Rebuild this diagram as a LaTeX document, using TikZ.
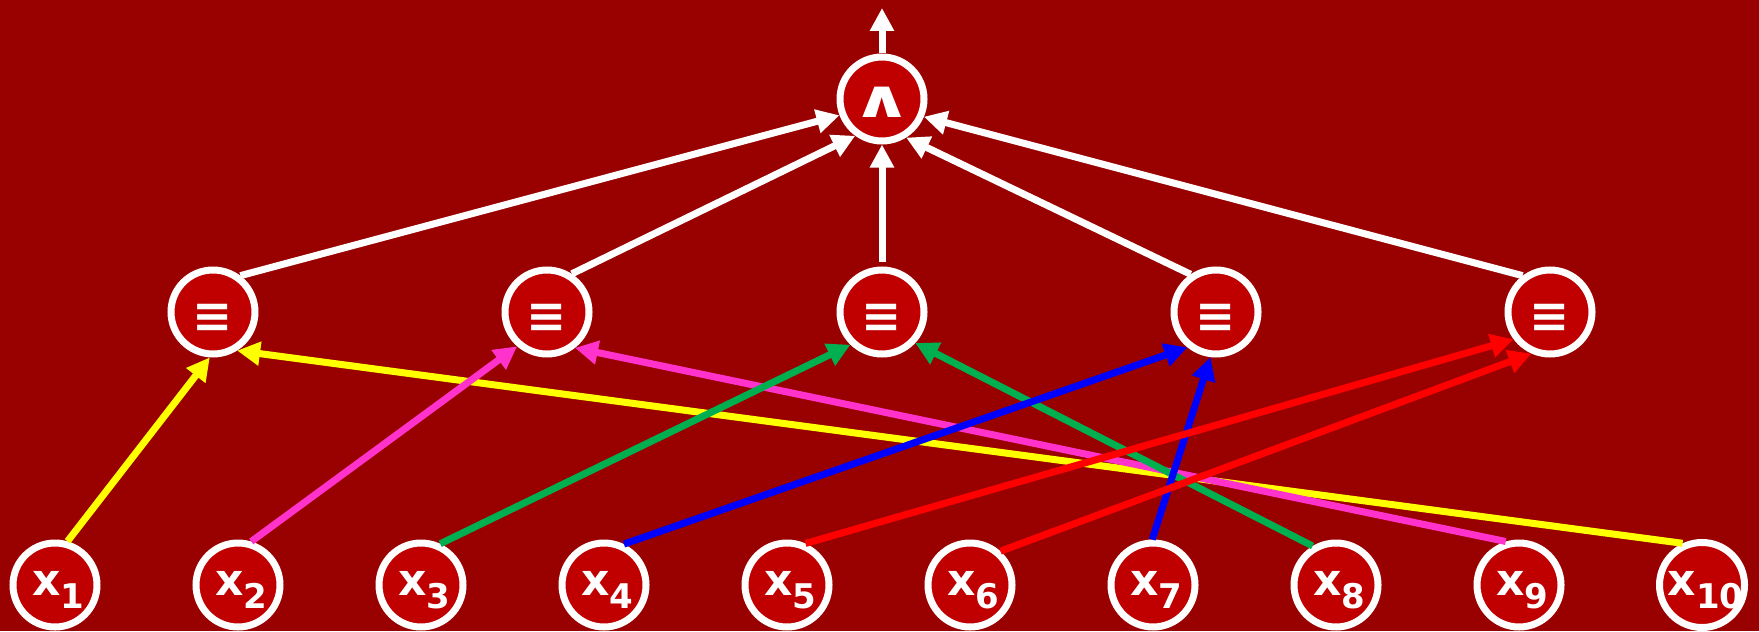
\documentclass[tikz,border=0pt]{standalone}
\usepackage{fontspec}
\setmainfont{DejaVu Sans}
\usetikzlibrary{arrows.meta}
\definecolor{bgred}{HTML}{990000}
\definecolor{nodered}{HTML}{C00000}
\definecolor{ylw}{HTML}{FFFF00}
\definecolor{pnk}{HTML}{FF33CC}
\definecolor{grn}{HTML}{00B050}
\definecolor{blu}{HTML}{0000FF}
\definecolor{rd}{HTML}{FF0000}
\newcommand\xlab[1]{\hspace*{3.5pt}{\fontsize{22pt}{22pt}\selectfont x\raisebox{-6.5pt}{\fontsize{17pt}{17pt}\selectfont #1}}}
\begin{document}
\begin{tikzpicture}[x=0.5pt,y=-0.5pt,
  nd/.style={circle, draw=white, line width=3.5pt, fill=nodered, minimum size=42pt, inner sep=0pt, text=white, font=\bfseries},
  edge/.style={line width=3.5pt, -{Triangle[length=11.5pt,width=11.5pt]}}]
\useasboundingbox (0,0) rectangle (1759,631);
\fill[bgred] (0,0) rectangle (1759,631);
\node[nd, text height=19pt, text depth=0pt] (t) at (882,99) {\scalebox{1.8}[1.25]{\fontsize{21pt}{21pt}\selectfont ∧}};
\foreach \i/\x in {1/213,2/547,3/882,4/1216,5/1550}
  \node[nd, text height=20pt, text depth=0pt] (m\i) at (\x,312) {\fontsize{24pt}{24pt}\selectfont ≡};
\foreach \i in {1,...,10}
  \node[nd, text height=10pt, text depth=0pt] (b\i) at ({55+183*(\i-1)},585) {\xlab{\i}};
\coordinate (up) at (882,8);
% white edges
\draw[edge, white] (t.north) -- (up);
\draw[edge, white] (m1.53) -- (t.201.6);
\draw[edge, white] (m2.57) -- (t.234.6);
\draw[edge, white, shorten <=2.5pt] (m3.north) -- (t.south);
\draw[edge, white] (m4.124.7) -- (t.302);
\draw[edge, white] (m5.127) -- (t.337);
% coloured edges
\draw[edge, ylw] (b1.74.7) -- (m1.266);
\draw[edge, ylw] (b10.115) -- (m1.302.5);
\draw[edge, pnk] (b2.73.5) -- (m2.229);
\draw[edge, pnk] (b9.107) -- (m2.308);
\draw[edge, grn] (b3.65.7) -- (m3.226);
\draw[edge, grn] (b8.121) -- (m3.317);
\draw[edge, blu] (b4.64.5) -- (m4.231.5);
\draw[edge, blu] (b7.91) -- (m4.263);
\draw[edge, rd] (b5.66) -- (m5.217);
\draw[edge, rd] (b6.48.7) -- (m5.246);
\end{tikzpicture}
\end{document}
